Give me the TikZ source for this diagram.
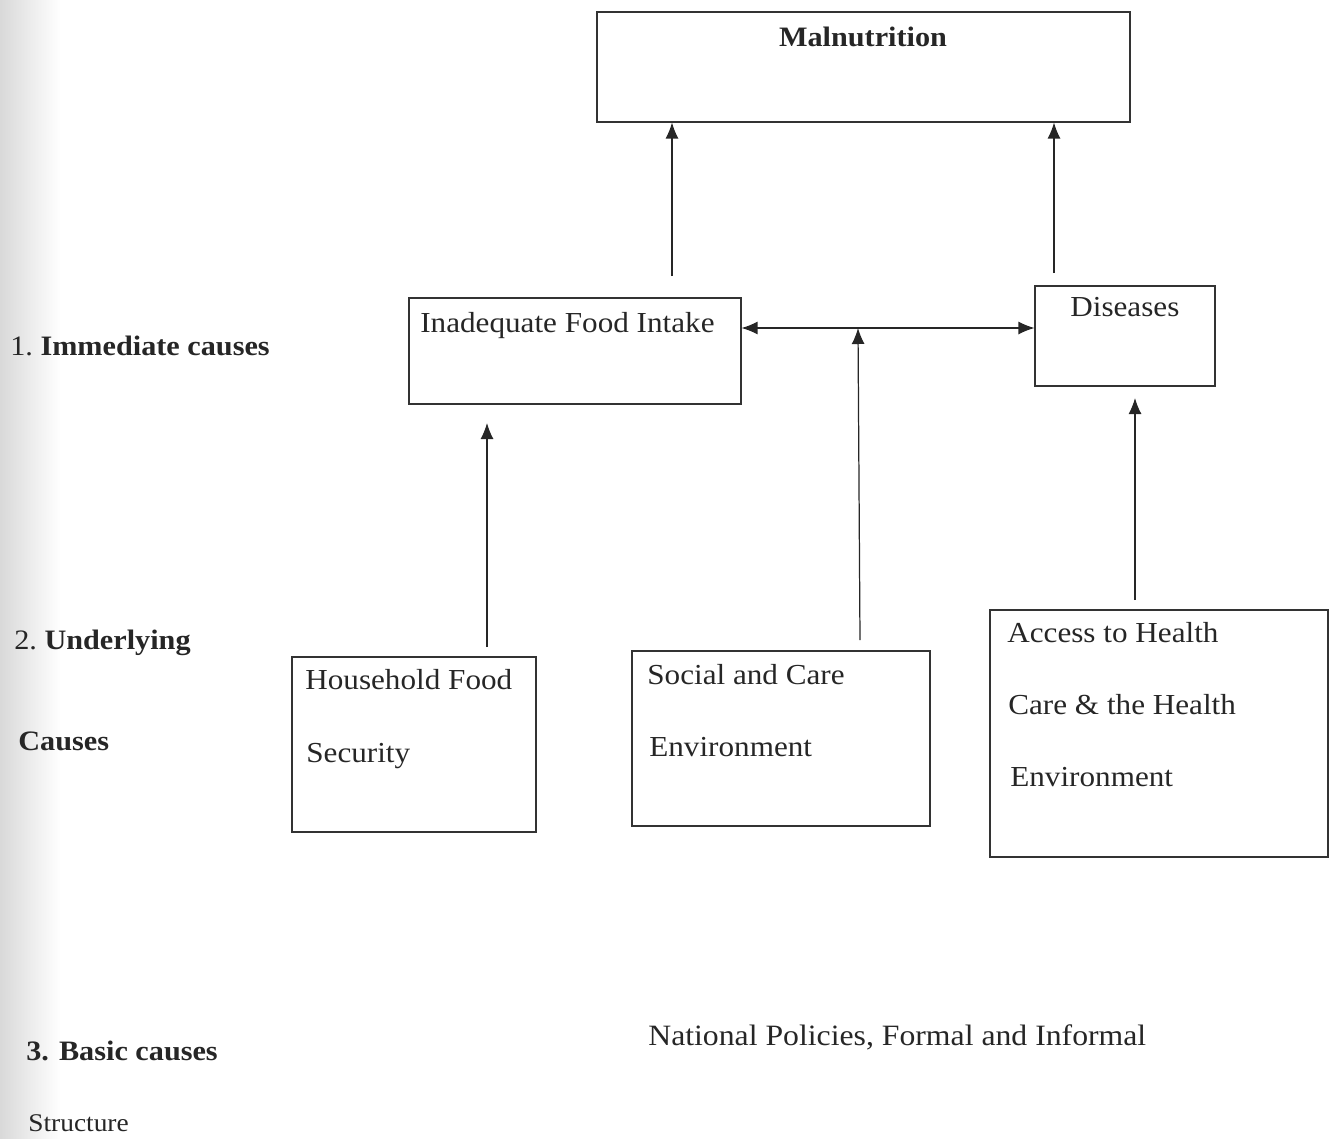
\documentclass[tikz,border=0pt]{standalone}
\usepackage{fontspec}
\setmainfont{Liberation Serif}[FakeStretch=1.075]
\usetikzlibrary{arrows.meta}
\begin{document}
\begin{tikzpicture}[x=0.02cm,y=-0.02cm,
  box/.style={draw=black!80,line width=0.6pt,inner sep=0pt},
  txt/.style={anchor=base west,inner sep=0pt,font=\fontsize{16.5pt}{18pt}\selectfont,text=black!85},
  btxt/.style={anchor=base west,inner sep=0pt,font=\fontsize{16pt}{18pt}\selectfont\bfseries,text=black!85},
  arr/.style={line width=0.7pt,draw=black!85,-{Latex[length=0.32cm,width=0.26cm]}},
  darr/.style={line width=0.7pt,draw=black!85,{Latex[length=0.32cm,width=0.26cm]}-{Latex[length=0.32cm,width=0.26cm]}}]
\useasboundingbox (0,0) rectangle (1339,1139);
\shade[left color=black!15,right color=white] (0,0) rectangle (60,1139);
% boxes
\node[box,minimum width=533*0.02cm,minimum height=110*0.02cm] (mal) at (863.5,67) {};
\node[box,minimum width=332*0.02cm,minimum height=106*0.02cm] (food) at (575,351) {};
\node[box,minimum width=180*0.02cm,minimum height=100*0.02cm] (dis) at (1125,336) {};
\node[box,minimum width=244*0.02cm,minimum height=175*0.02cm] (hfs) at (414,744.5) {};
\node[box,minimum width=298*0.02cm,minimum height=175*0.02cm] (soc) at (781,738.5) {};
\node[box,minimum width=338*0.02cm,minimum height=247*0.02cm] (acc) at (1159,733.5) {};
% box texts
\node[btxt,anchor=base] (tmal) at (863,46) {Malnutrition};
\node[txt] (tfood) at (420,332) {Inadequate Food Intake};
\node[txt] (tdis) at (1070,316) {Diseases};
\node[txt] (thfs1) at (305,689) {Household Food};
\node[txt] (thfs2) at (306,762) {Security};
\node[txt] (tsoc1) at (647,684) {Social and Care};
\node[txt] (tsoc2) at (649,756) {Environment};
\node[txt] (tacc1) at (1007,642) {Access to Health};
\node[txt] (tacc2) at (1008,714) {Care \& the Health};
\node[txt] (tacc3) at (1010,786) {Environment};
% left labels
\node[btxt] (l1) at (10,355) {\mdseries 1.\bfseries\ Immediate causes};
\node[btxt] (l2) at (14,649) {\mdseries 2.\bfseries\ Underlying};
\node[btxt] (l2b) at (18,750) {Causes};
\node[btxt] (l3) at (26,1060) {3. Basic causes};
\node[txt,font=\fontsize{14.5pt}{16pt}\selectfont] (l4) at (28,1131) {Structure};
\node[txt,font=\fontsize{16.8pt}{18pt}\selectfont] (nat) at (648,1045) {National Policies, Formal and Informal};
% connectors
\coordinate (s1) at (672,276);
\coordinate (s2) at (1054,273);
\coordinate (jn) at (858,328);
\coordinate (s3) at (860,640);
\coordinate (s4) at (487,647);
\coordinate (e4) at (487,423);
\coordinate (s5) at (1135,600);
\coordinate (e5) at (1135,398);
\draw[arr] (s1) -- (s1 |- mal.south);
\draw[arr] (s2) -- (s2 |- mal.south);
\draw[darr] (food.east |- jn) -- (dis.west |- jn);
\draw[arr] (s3) -- (jn);
\draw[arr] (s4) -- (e4);
\draw[arr] (s5) -- (e5);
\end{tikzpicture}
\end{document}
